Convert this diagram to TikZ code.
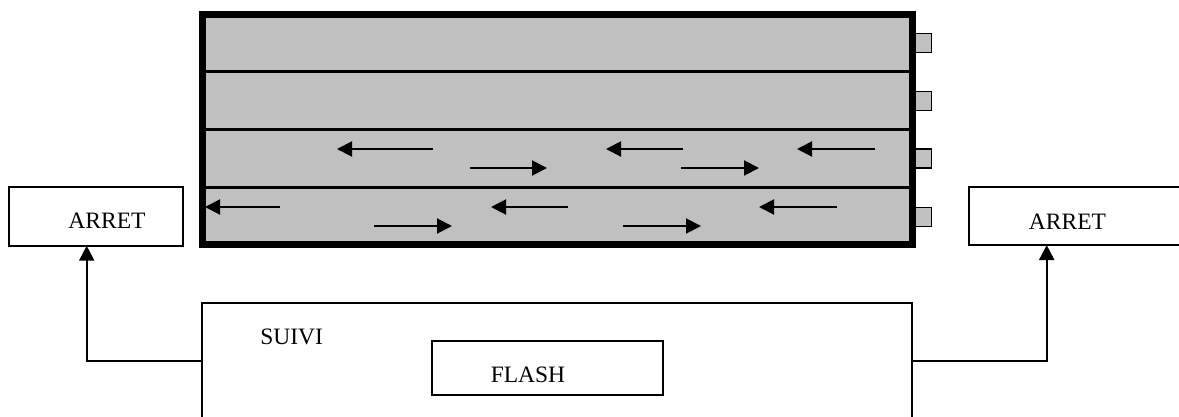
\documentclass[tikz,border=0pt]{standalone}
\usepackage{fontspec}
\setmainfont{Liberation Serif}
\usetikzlibrary{arrows.meta}
\definecolor{lanegray}{HTML}{C0C0C0}
\begin{document}
\begin{tikzpicture}[x=1pt,y=-1pt,
  box/.style={draw, line width=2, fill=white, inner sep=0, outer sep=0},
  lbl/.style={anchor=base, inner sep=0, font=\fontsize{23.5}{28}\selectfont},
  lanearrow/.style={line width=2, -{Triangle[length=15,width=15]}},
  conn/.style={line width=2, -{Triangle[length=15,width=15]}},
  sensor/.style={draw, line width=1.5, fill=lanegray, minimum width=18, minimum height=19, inner sep=0}]
\useasboundingbox (0,0) rectangle (1179,416);
\clip (0,0) rectangle (1179,416);
% sensors
\node[sensor] (s1) at (922.5,43) {};
\node[sensor] (s2) at (922.5,101) {};
\node[sensor] (s3) at (922.5,158.5) {};
\node[sensor] (s4) at (922.5,217) {};
% road
\node[draw, fill=lanegray, line width=7, inner sep=0, minimum width=710.5, minimum height=230] (road) at (557.25,129.5) {};
\foreach \yy in {71.7,129.3,187.3}
  \draw[line width=3.5] (road.west |- 0,\yy) -- (road.east |- 0,\yy);
% lane arrows
\foreach \a/\b/\yy in {433/337/149, 683/606/149, 875/797/149, 470/547/168, 681/759/168,
                       280/205/207, 568/491/207, 837/759/207, 374/452/226, 623/701/226}
  \draw[lanearrow] (\a,\yy) -- (\b,\yy);
% boxes
\node[box, minimum width=173.7, minimum height=59] (arretL) at (96.2,216.2) {};
\node[box, minimum width=230, minimum height=58] (arretR) at (1084,216) {};
\node[box, minimum width=710, minimum height=140] (suivi) at (557,372.5) {};
\node[box, minimum width=231.6, minimum height=54.6] (flash) at (547.5,368) {};
% labels
\node[lbl] (tArretL) at (107,228.3) {ARRET};
\node[lbl] (tArretR) at (1067.5,229) {ARRET};
\node[lbl] (tSuivi) at (291.7,344) {SUIVI};
\node[lbl] (tFlash) at (528,382.7) {FLASH};
% connectors
\draw[conn] (suivi.west |- 0,360.7) -| (arretL.south -| 86.7,0);
\draw[conn] (suivi.east |- 0,360.7) -| (arretR.south -| 1046.7,0);
\end{tikzpicture}
\end{document}
